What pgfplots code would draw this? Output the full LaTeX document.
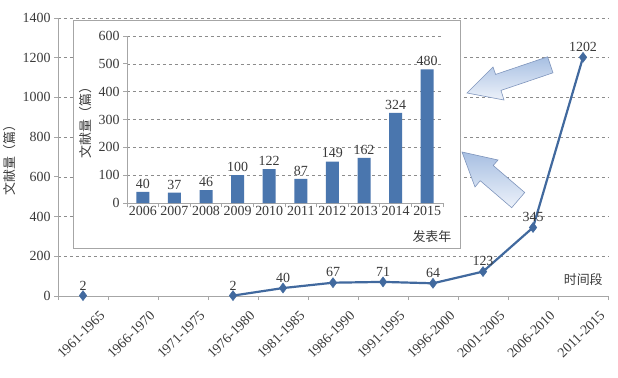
\documentclass[border=0pt]{standalone}
\usepackage{pgfplots}
\pgfplotsset{compat=1.18}
\usepackage{fontspec}
\setmainfont{Liberation Serif}
\newfontfamily\cjk{Noto Sans CJK SC}
\definecolor{lineblue}{HTML}{41699E}
\definecolor{barblue}{HTML}{4A76AE}
\definecolor{axgray}{HTML}{A6A6A6}
\definecolor{gridgray}{HTML}{8C8C8C}
\definecolor{txt}{HTML}{3A3A3A}
\definecolor{arrowA}{HTML}{EDF2FA}
\definecolor{arrowB}{HTML}{A7BFE2}
\definecolor{arrowE}{HTML}{7F95BC}
\newcommand\numfont{\fontsize{14}{16}\selectfont}
\newcommand\zhfont{\cjk\fontsize{13}{15}\selectfont}
\begin{document}
\begin{tikzpicture}[x=1bp,y=1bp]
\path[use as bounding box] (0,0) rectangle (618,377);
\pgfplotsset{
  myax/.style={
    scale only axis,
    anchor=south west,
    /pgf/number format/assume math mode=true,
    /pgf/number format/1000 sep={},
    axis x line=bottom, axis y line=left,
    axis line style={-, draw=axgray, line width=0.9bp},
    tick style={draw=axgray, line width=0.8bp},
    tick align=outside,
    major tick length=4bp,
    ymajorgrids,
    grid style={dashed, draw=gridgray, line width=0.6bp},
    tick label style={text=txt, font=\numfont},
    xticklabel style={font=\numfont},
    yticklabel style={font=\numfont},
    label style={text=txt, font=\zhfont},
    xticklabels={},
  }
}
% ---------------- main axis ----------------
\begin{axis}[myax,
  at={(58bp,81bp)}, width=550bp, height=278bp,
  xmin=-0.5, xmax=10.5, ymin=0, ymax=1400,
  ytick={0,200,...,1400},
  xtick={-0.5,0.5,...,10.5},
  extra x ticks={0,1,2,3,4,5,6,7,8,9,10},
  extra x tick labels={1961-1965,1966-1970,1971-1975,1976-1980,1981-1985,1986-1990,1991-1995,1996-2000,2001-2005,2006-2010,2011-2015},
  extra x tick style={major tick length=0pt, xticklabel style={font=\numfont, yshift=-12bp, xshift=16bp, rotate=45, anchor=north east, inner sep=1bp}},
  ylabel={文献量（篇）},
  xlabel={时间段},
  xlabel style={at={(axis description cs:0.955,0.058)}, anchor=center},
  nodes near coords,
  every node near coord/.append style={text=txt, font=\numfont, yshift=2bp},
]
\addplot[lineblue, line width=2.2bp, mark=diamond*, mark size=5bp, mark options={fill=lineblue, draw=lineblue, line width=0.5bp}]
  coordinates {(0,2)};
\addplot[lineblue, line width=2.2bp, mark=diamond*, mark size=5bp, mark options={fill=lineblue, draw=lineblue, line width=0.5bp}]
  coordinates {(3,2) (4,40) (5,67) (6,71) (7,64) (8,123) (9,345) (10,1202)};
\end{axis}
% ---------------- inset box ----------------
\draw[axgray, fill=white, line width=1bp] (73,129) rectangle (460,356);
% ---------------- inset axis ----------------
\begin{axis}[myax,
  at={(127bp,174bp)}, width=316bp, height=167bp,
  xmin=-0.5, xmax=9.5, ymin=0, ymax=600,
  ytick={0,100,...,600},
  xtick={-0.5,0.5,...,9.5},
  extra x ticks={0,1,2,3,4,5,6,7,8,9},
  extra x tick labels={2006,2007,2008,2009,2010,2011,2012,2013,2014,2015},
  extra x tick style={major tick length=0pt, xticklabel style={font=\numfont, inner sep=3bp}},
  ylabel={文献量（篇）},
  xlabel={发表年},
  xlabel style={at={(axis description cs:0.965,-0.204)}, anchor=center},
  ybar, bar width=13bp,
  nodes near coords,
  every node near coord/.append style={text=txt, font=\numfont},
]
\addplot[draw=none, fill=barblue]
  coordinates {(0,40) (1,37) (2,46) (3,100) (4,122) (5,87) (6,149) (7,162) (8,324) (9,480)};
\end{axis}
% ---------------- decorative arrows ----------------
\shade[left color=arrowB, right color=arrowA, shading angle=0]
  (467,284) -- (504,277) -- (501,286.6) -- (553,304.2) -- (547.6,320.2) -- (495.6,302.6) -- (493,310) -- cycle;
\draw[arrowE, line width=0.6bp]
  (467,284) -- (504,277) -- (501,286.6) -- (553,304.2) -- (547.6,320.2) -- (495.6,302.6) -- (493,310) -- cycle;
\shade[top color=arrowB, bottom color=arrowA]
  (462,225) -- (498,217) -- (493.2,211.5) -- (524.7,184.5) -- (511.7,169.3) -- (480.2,196.3) -- (475,190) -- cycle;
\draw[arrowE, line width=0.6bp]
  (462,225) -- (498,217) -- (493.2,211.5) -- (524.7,184.5) -- (511.7,169.3) -- (480.2,196.3) -- (475,190) -- cycle;
\end{tikzpicture}
\end{document}
